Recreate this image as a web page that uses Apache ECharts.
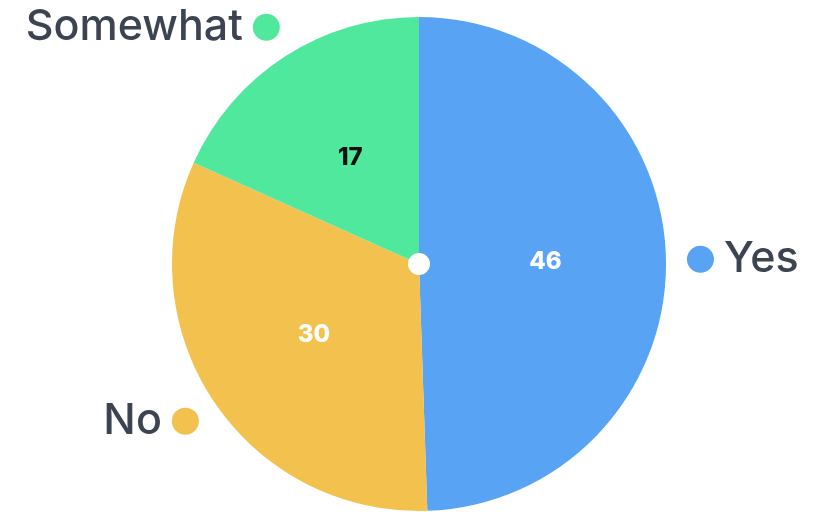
<!DOCTYPE html>
<html>
<head>
<meta charset="utf-8">
<script src="https://cdn.jsdelivr.net/npm/echarts@6/dist/echarts.min.js"></script>
<style>
  html, body {margin: 0; padding: 0; background: #fff;}
  #pie {width: 814px; height: 512px;}
</style>
</head>
<body>
<div id="pie"></div>
<script>
// answers and counts
var names = ['Yes', 'No', 'Somewhat'];
var counts = [46, 30, 17];
var colors = ['#58a3f3', '#f2c14e', '#50e89d'];
var valueColors = ['#ffffff', '#ffffff', '#111111'];

var chart = echarts.init(document.getElementById('pie'));

var innerData = [];
var outerData = [];
var rich = {t: {fontFamily: 'Inter', fontWeight: 500, fontSize: 43, color: '#3b4450', padding: [0, 10, 0, 10]}};
for (var i = 0; i < names.length; i++) {
    rich['d' + i] = {width: 27, height: 27, borderRadius: 14, backgroundColor: colors[i]};
    innerData.push({value: counts[i], name: names[i], itemStyle: {color: colors[i]}, label: {color: valueColors[i]}});
    outerData.push({value: counts[i], name: names[i]});
}

var option = {
    animation: false,
    series: [
        {type: 'pie', center: [419, 264], radius: 247, startAngle: 90, silent: true,
            label: {position: 'inside', fontFamily: 'Inter', fontWeight: 800, fontSize: 24, formatter: '{c}'},
            labelLine: {show: false},
            data: innerData},
        {type: 'pie', center: [419, 264], radius: 247, startAngle: 90, silent: true,
            itemStyle: {color: 'rgba(0,0,0,0)'},
            label: {position: 'outside', distanceToLabelLine: -14, bleedMargin: 0, rich: rich,
                formatter: function (p) {
                    var i = p.dataIndex;
                    // dot sits on the anchor, name points away from the pie
                    return i == 0 ? '{d' + i + '|}{t|' + p.name + '}' : '{t|' + p.name + '}{d' + i + '|}';
                }},
            labelLine: {show: false, length: 35, length2: 0},
            data: outerData},
        {type: 'pie', center: [419, 264], radius: 11, silent: true, label: {show: false},
            itemStyle: {color: '#ffffff'}, data: [1]}
    ]
};

chart.setOption(option);
</script>
</body>
</html>
